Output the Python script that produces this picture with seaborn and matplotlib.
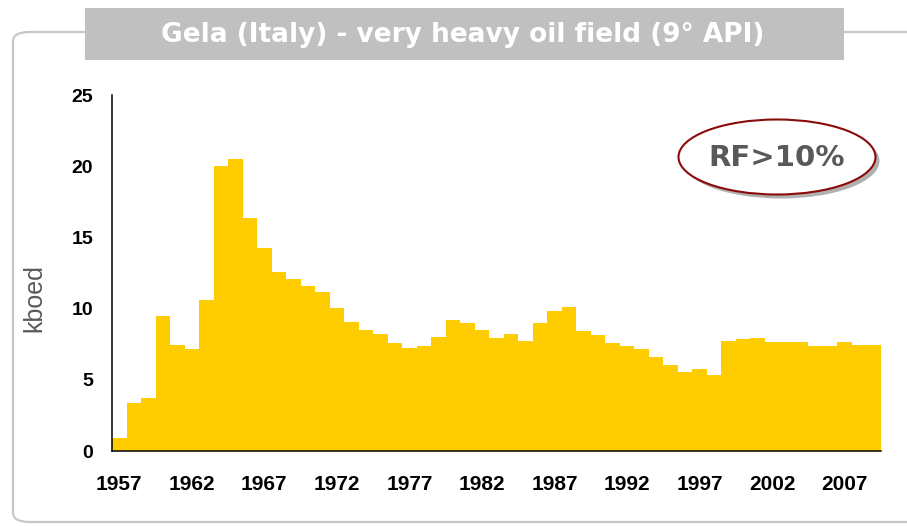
import matplotlib
matplotlib.use("Agg")
import matplotlib.pyplot as plt
import seaborn as sns
import pandas as pd
from matplotlib.patches import Ellipse, FancyBboxPatch, Rectangle
from matplotlib.ticker import FixedLocator

years = list(range(1957, 2010))
production = [0.94, 3.39, 3.75, 9.5, 7.44, 7.19, 10.63, 20.0, 20.5, 16.39,
              14.26, 12.57, 12.08, 11.59, 11.19, 10.04, 9.06, 8.52, 8.2, 7.58,
              7.21, 7.35, 7.98, 9.18, 8.97, 8.47, 7.91, 8.19, 7.7, 8.97,
              9.81, 10.09, 8.4, 8.12, 7.58, 7.35, 7.14, 6.58, 6.02, 5.52,
              5.73, 5.31, 7.7, 7.84, 7.91, 7.63, 7.63, 7.63, 7.35, 7.35,
              7.63, 7.42, 7.42]
label_years = [1957, 1962, 1967, 1972, 1977, 1982, 1987, 1992, 1997, 2002, 2007]
y_ticks = [0, 5, 10, 15, 20, 25]
title_text = "Gela (Italy) - very heavy oil field (9° API)"
badge_text = "RF>10%"
y_label = "kboed"

sns.set_style("white")
plt.rcParams["font.family"] = ["Liberation Sans", "DejaVu Sans"]

W, H = 907, 526
fig = plt.figure(figsize=(W / 100, H / 100), dpi=100)
ax = fig.add_axes([112 / W, 1 - 451 / H, (881 - 112) / W, (451 - 95) / H])

df = pd.DataFrame({"year": [str(y) for y in years], "kboed": production})
sns.barplot(data=df, x="year", y="kboed", color="#FFCC00", saturation=1,
            width=1.0, linewidth=0, ax=ax)

ax.set_xlim(-0.5, len(years) - 0.5)
ax.set_ylim(0, 25)
ax.set_yticks(y_ticks)
ax.set_yticklabels([str(t) for t in y_ticks], fontsize=14, fontweight="bold",
                   color="black")
pos = [years.index(y) for y in label_years]
ax.xaxis.set_major_locator(FixedLocator(pos))
ax.set_xticklabels([str(y) for y in label_years], fontsize=15, fontweight="bold",
                   color="black")
ax.xaxis.set_minor_locator(FixedLocator([i - 0.5 for i in range(len(years) + 1)]))
ax.tick_params(axis="x", which="major", length=0, pad=17)
ax.tick_params(axis="x", which="minor", length=4.5, width=1.0, color="black")
ax.tick_params(axis="y", which="major", length=4.5, width=1.0, color="black", pad=9)
ax.tick_params(axis="y", which="minor", length=0)

for s in ["top", "right"]:
    ax.spines[s].set_visible(False)
for s in ["left", "bottom"]:
    ax.spines[s].set_color("black")
    ax.spines[s].set_linewidth(1.1)
ax.set_xlabel("")
ax.set_ylabel(y_label, fontsize=18, color="#595959")
ax.yaxis.set_label_coords(-0.085, 0.43)

# Outer rounded frame
frame = FancyBboxPatch((13 / W, 1 - 522 / H), (930 - 13) / W, (522 - 32) / H,
                       boxstyle="round,pad=0,rounding_size=0.018",
                       transform=fig.transFigure, facecolor="none",
                       edgecolor="#c8c8c8", linewidth=1.6, zorder=0)
fig.patches.append(frame)

# Title box
tbox = Rectangle((85 / W, 1 - 60 / H), (844 - 85) / W, (60 - 8) / H,
                 transform=fig.transFigure, facecolor="#c0c0c0",
                 edgecolor="none", zorder=1)
fig.patches.append(tbox)
fig.text(463 / W, 1 - 42.5 / H, title_text, ha="center", va="baseline",
         fontsize=19, fontweight="bold", color="white",
         family=["DejaVu Sans"])

# RF badge
cx, cy, ew, eh = 777, 157, 197, 75
shadow = Ellipse(((cx + 4) / W, 1 - (cy + 4) / H), ew / W, eh / H,
                 transform=fig.transFigure, facecolor="#b0b0b0",
                 edgecolor="none", zorder=2)
ell = Ellipse((cx / W, 1 - cy / H), ew / W, eh / H, transform=fig.transFigure,
              facecolor="white", edgecolor="#8b0a0a", linewidth=1.5, zorder=3)
fig.patches.append(shadow)
fig.patches.append(ell)
fig.text(cx / W, 1 - (cy + 1) / H, badge_text, ha="center", va="center",
         fontsize=21, fontweight="bold", color="#595959", zorder=4,
         family=["DejaVu Sans"])

fig.savefig("out.png", dpi=100)
